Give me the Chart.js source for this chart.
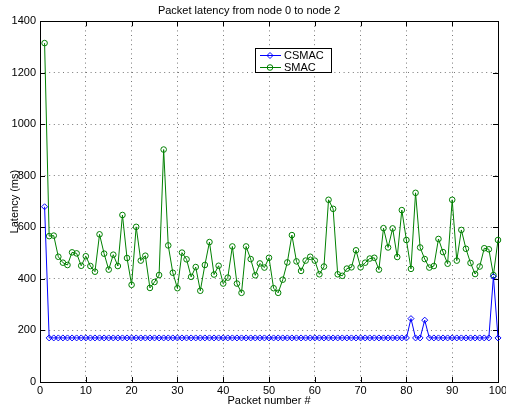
<!DOCTYPE html>
<html>
<head>
<meta charset="utf-8">
<script src="https://cdn.jsdelivr.net/npm/chart.js@4/dist/chart.umd.min.js"></script>
<style>
html, body { margin: 0; padding: 0; background: #fff; }
</style>
</head>
<body>
<canvas id="myChart" width="506" height="408"></canvas>
<script>
// Data ------------------------------------------------------
const packets = [1,2,3,4,5,6,7,8,9,10,11,12,13,14,15,16,17,18,19,20,
  21,22,23,24,25,26,27,28,29,30,31,32,33,34,35,36,37,38,39,40,
  41,42,43,44,45,46,47,48,49,50,51,52,53,54,55,56,57,58,59,60,
  61,62,63,64,65,66,67,68,69,70,71,72,73,74,75,76,77,78,79,80,
  81,82,83,84,85,86,87,88,89,90,91,92,93,94,95,96,97,98,99,100];

const csmac = [680,171,171,171,171,171,171,171,171,171,171,171,171,171,171,171,171,171,171,171,
  171,171,171,171,171,171,171,171,171,171,171,171,171,171,171,171,171,171,171,171,
  171,171,171,171,171,171,171,171,171,171,171,171,171,171,171,171,171,171,171,171,
  171,171,171,171,171,171,171,171,171,171,171,171,171,171,171,171,171,171,171,171,
  246,171,171,240,171,171,171,171,171,171,171,171,171,171,171,171,171,171,409,171];

const smac = [1315,566,568,486,463,454,503,499,451,488,450,428,573,498,436,494,450,648,481,377,
  602,471,490,365,388,415,902,530,424,364,502,476,408,446,354,454,543,417,451,382,
  405,526,382,346,526,477,414,460,444,482,364,346,397,464,570,468,431,471,486,471,
  418,448,707,672,418,412,440,445,511,445,463,479,482,436,597,522,596,485,667,551,
  439,734,522,477,444,450,555,504,459,707,471,590,517,462,419,448,519,515,415,551];

const xTicks = [0,10,20,30,40,50,60,70,80,90,100];
const yTicks = [0,200,400,600,800,1000,1200,1400];

const FONT = 'Liberation Sans, Arial, Helvetica, sans-serif';

// matlab style box with inward tick marks
const axesBox = {
  id: 'axesBox',
  beforeDatasetsDraw(chart) {
    const {ctx, chartArea: a, scales} = chart;
    ctx.save();
    ctx.strokeStyle = '#000';
    ctx.lineWidth = 1;
    ctx.beginPath();
    xTicks.forEach(v => {
      const px = Math.round(scales.x.getPixelForValue(v)) + 0.5;
      ctx.moveTo(px, a.bottom); ctx.lineTo(px, a.bottom - 5);
      ctx.moveTo(px, a.top); ctx.lineTo(px, a.top + 5);
    });
    yTicks.forEach(v => {
      const py = Math.round(scales.y.getPixelForValue(v)) + 0.5;
      ctx.moveTo(a.left, py); ctx.lineTo(a.left + 5, py);
      ctx.moveTo(a.right, py); ctx.lineTo(a.right - 5, py);
    });
    ctx.stroke();
    ctx.strokeRect(Math.round(a.left) + 0.5, Math.round(a.top) + 0.5,
      Math.round(a.right - a.left), Math.round(a.bottom - a.top));
    ctx.restore();
  }
};

// legend box inside the axes
const legendBox = {
  id: 'legendBox',
  afterDraw(chart) {
    const {ctx, chartArea: a} = chart;
    const x0 = Math.round(a.left + 215), y0 = Math.round(a.top + 27), w = 76, h = 24;
    ctx.save();
    ctx.fillStyle = '#fff';
    ctx.fillRect(x0, y0, w, h);
    ctx.strokeStyle = '#000';
    ctx.lineWidth = 1;
    ctx.strokeRect(x0 + 0.5, y0 + 0.5, w, h);
    chart.data.datasets.forEach((ds, i) => {
      const cy = y0 + 7.5 + i * 12;
      ctx.strokeStyle = ds.borderColor;
      ctx.lineWidth = 1;
      ctx.beginPath();
      ctx.moveTo(x0 + 5, cy); ctx.lineTo(x0 + 26, cy);
      ctx.stroke();
      ctx.fillStyle = 'rgba(0,0,0,0)';
      Chart.helpers.drawPoint(ctx, {pointStyle: ds.pointStyle, radius: ds.pointRadius, borderWidth: 1, rotation: 0}, x0 + 15, cy);
      ctx.fillStyle = '#000';
      ctx.font = '11px ' + FONT;
      ctx.textBaseline = 'middle';
      ctx.fillText(ds.label, x0 + 29, cy + 0.5);
    });
    ctx.restore();
  }
};

const ctx = document.getElementById('myChart').getContext('2d');
const myChart = new Chart(ctx, {
  type: 'line',
  data: {
    labels: packets,
    datasets: [
      {
        label: 'CSMAC',
        data: packets.map((p, i) => ({x: p, y: csmac[i]})),
        borderColor: '#0000ff',
        backgroundColor: 'rgba(0,0,0,0)',
        borderWidth: 1,
        pointStyle: 'rectRot',
        pointRadius: 3,
        pointBorderWidth: 1,
        pointBackgroundColor: 'rgba(0,0,0,0)',
        tension: 0,
        clip: false
      },
      {
        label: 'SMAC',
        data: packets.map((p, i) => ({x: p, y: smac[i]})),
        borderColor: '#008000',
        backgroundColor: 'rgba(0,0,0,0)',
        borderWidth: 1,
        pointStyle: 'circle',
        pointRadius: 2.8,
        pointBorderWidth: 1,
        pointBackgroundColor: 'rgba(0,0,0,0)',
        tension: 0,
        clip: false
      }
    ]
  },
  options: {
    responsive: false,
    animation: false,
    events: [],
    layout: { padding: { left: 0, right: 8, top: 0, bottom: 0 } },
    plugins: {
      legend: { display: false },
      tooltip: { enabled: false },
      title: {
        display: true,
        text: 'Packet latency from node 0 to node 2',
        color: '#000',
        font: { family: FONT, size: 11, weight: 'normal' },
        padding: { top: 4, bottom: 4 }
      }
    },
    scales: {
      x: {
        type: 'linear',
        min: 0, max: 100,
        afterBuildTicks: s => { s.ticks = xTicks.map(v => ({value: v})); },
        afterFit: s => { s.height = 26; s.paddingLeft = 0; s.paddingRight = 0; },
        grid: { color: '#777', lineWidth: 1, drawTicks: false },
        border: { display: false, dash: [1, 3.6] },
        ticks: { color: '#000', padding: 2, maxRotation: 0, font: { family: FONT, size: 11 },
          callback: v => String(v) },
        title: {
          display: true, text: 'Packet number #', color: '#000',
          font: { family: FONT, size: 11 }, padding: { top: 0, bottom: 0 }
        }
      },
      y: {
        min: 0, max: 1400,
        afterBuildTicks: s => { s.ticks = yTicks.map(v => ({value: v})); },
        afterFit: s => { s.width = 40; s.paddingTop = 0; s.paddingBottom = 0; },
        grid: { color: '#777', lineWidth: 1, drawTicks: false },
        border: { display: false, dash: [1, 3.6] },
        ticks: { color: '#000', padding: 4, font: { family: FONT, size: 11 },
          callback: v => String(v) },
        title: {
          display: true, text: 'Latency (ms)', color: '#000',
          font: { family: FONT, size: 11 }, padding: { top: 8, bottom: 0 }
        }
      }
    }
  },
  plugins: [axesBox, legendBox]
});
</script>
</body>
</html>
